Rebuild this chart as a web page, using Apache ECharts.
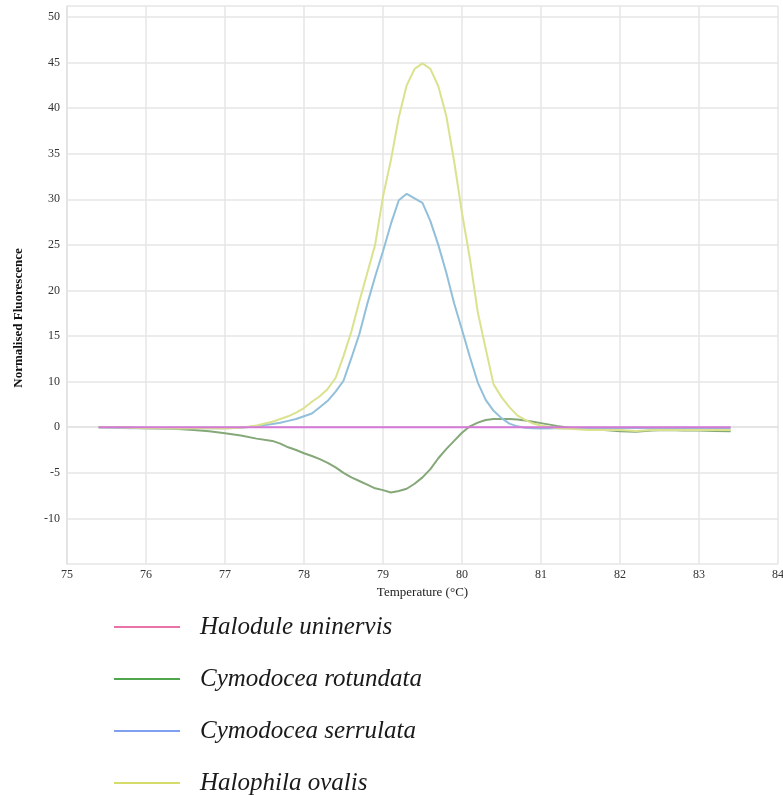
<!DOCTYPE html>
<html>
<head>
<meta charset="utf-8">
<script src="https://cdn.jsdelivr.net/npm/echarts@6/dist/echarts.min.js"></script>
<style>
html,body{margin:0;padding:0;background:#fff;}
#chart{width:783px;height:795px;}
</style>
</head>
<body>
<div id="chart"></div>
<script>
// Temperatures (°C)
const temps = [75.4,75.6,75.8,76.0,76.2,76.4,76.6,76.8,77.0,77.2,77.4,
  77.6,77.7,77.8,77.9,78.0,78.1,78.2,78.3,78.4,78.5,78.6,78.7,78.8,78.9,
  79.0,79.1,79.2,79.3,79.4,79.5,79.6,79.7,79.8,79.9,80.0,80.1,80.2,80.3,
  80.4,80.5,80.6,80.7,80.8,80.9,81.0,
  81.2,81.4,81.6,81.8,82.0,82.2,82.4,82.6,82.8,83.0,83.2,83.4];

const seriesNames = ['Halodule uninervis','Cymodocea rotundata','Cymodocea serrulata','Halophila ovalis'];

// Values in the plot's axis units (the flat line sits on the gridline labelled "0")
const halodule = temps.map(() => 0);

const rotundata = [0,0,-0.05,-0.1,-0.15,-0.2,-0.3,-0.45,-0.65,-0.9,-1.25,
  -1.5,-1.8,-2.2,-2.5,-2.85,-3.15,-3.5,-3.9,-4.4,-5.0,-5.5,-5.9,-6.3,-6.7,
  -6.9,-7.15,-7.0,-6.75,-6.2,-5.5,-4.6,-3.4,-2.4,-1.5,-0.6,0.1,0.5,0.8,
  0.9,0.9,0.9,0.85,0.75,0.6,0.45,
  0.15,-0.1,-0.2,-0.3,-0.45,-0.5,-0.35,-0.3,-0.35,-0.35,-0.4,-0.45];

const serrulata = [0,-0.05,-0.1,-0.1,-0.15,-0.1,-0.1,-0.1,-0.1,-0.05,0.1,
  0.35,0.5,0.7,0.9,1.2,1.5,2.2,2.9,3.9,5.1,7.6,10.2,13.5,16.5,
  19.3,22.3,24.9,25.6,25.1,24.6,22.6,20.0,17.0,13.6,10.7,7.7,4.9,3.0,
  1.8,1.0,0.4,0.1,-0.05,-0.1,-0.15,
  -0.1,-0.1,-0.05,-0.1,-0.1,-0.05,-0.1,-0.1,-0.05,-0.1,-0.1,-0.1];

const ovalis = [0,0,-0.05,-0.1,-0.1,-0.15,-0.1,-0.1,-0.15,-0.05,0.2,
  0.6,0.9,1.2,1.6,2.1,2.8,3.4,4.2,5.4,7.8,10.5,13.8,16.9,20.0,
  25.3,29.3,34.0,37.5,39.3,39.9,39.3,37.4,34.2,29.2,23.5,18.5,12.6,8.6,
  4.7,3.3,2.2,1.3,0.8,0.4,0.2,
  -0.1,-0.2,-0.3,-0.3,-0.3,-0.4,-0.3,-0.3,-0.3,-0.3,-0.3,-0.3];

// Tick labels
const xTicks = [75,76,77,78,79,80,81,82,83,84];
const yTickValues = [-15,-10,-5,0,5,10,15,20,25,30,35,40,45];
const yTickLabels = ['','-10','-5','0','10','15','20','25','30','35','40','45','50'];

const lineColors = ['#d47ad6','#84a878','#92c0da','#dbe28e'];
const legendColors = ['#e873a8','#4fa64f','#7f9ff0','#d6dc6a'];

const chart = echarts.init(document.getElementById('chart'));
const valuesList = [halodule, rotundata, serrulata, ovalis];
const zList = [5,2,3,4];

const series = seriesNames.map((name, i) => ({
  name: name,
  type: 'line',
  data: temps.map((t, k) => [t, valuesList[i][k]]),
  symbol: 'none',
  smooth: false,
  z: zList[i],
  lineStyle: {color: lineColors[i], width: 2},
  itemStyle: {color: lineColors[i]}
}));

chart.setOption({
  backgroundColor: '#ffffff',
  animation: false,
  grid: {left: 67, right: 5, top: 6, bottom: 231, containLabel: false, outerBoundsMode: 'none'},
  xAxis: {
    type: 'value',
    min: xTicks[0],
    max: xTicks[xTicks.length - 1],
    interval: 1,
    name: 'Temperature (°C)',
    nameLocation: 'middle',
    nameGap: 18,
    nameTextStyle: {fontFamily: 'Liberation Serif', fontSize: 13, color: '#222'},
    axisLine: {show: true, lineStyle: {color: '#e2e2e2', width: 1.5}},
    axisTick: {show: false},
    axisLabel: {fontFamily: 'Liberation Serif', fontSize: 12, color: '#333', margin: 5,
      formatter: v => xTicks.indexOf(v) >= 0 ? String(v) : ''},
    splitLine: {show: true, lineStyle: {color: '#e6e6e6', width: 1.5}}
  },
  yAxis: {
    type: 'value',
    min: -15,
    max: 46.2,
    interval: 5,
    name: 'Normalised Fluorescence',
    nameLocation: 'middle',
    nameGap: 42,
    nameTextStyle: {fontFamily: 'Liberation Serif', fontSize: 13, fontWeight: 'bold', color: '#111', padding: [0, 66, 0, 0]},
    axisLine: {show: true, lineStyle: {color: '#e2e2e2', width: 1.5}},
    axisTick: {show: false},
    axisLabel: {fontFamily: 'Liberation Serif', fontSize: 12, color: '#333', margin: 7,
      formatter: v => {
        const idx = yTickValues.indexOf(Math.round(v * 100) / 100);
        return idx >= 0 ? yTickLabels[idx] : '';
      }},
    splitLine: {show: true, lineStyle: {color: '#e6e6e6', width: 1.5}}
  },
  legend: {
    orient: 'vertical',
    left: 114,
    top: 614,
    height: 200,
    padding: 0,
    itemWidth: 66,
    itemHeight: 14,
    itemGap: 26,
    icon: 'path://M0,6 L66,6 L66,8 L0,8 Z',
    data: seriesNames.map((n, i) => ({name: n, itemStyle: {color: legendColors[i]}})),
    textStyle: {fontFamily: 'Liberation Serif', fontStyle: 'italic', fontSize: 25, color: '#1a1a1a',
      lineHeight: 26, padding: [0, 0, 0, 15]}
  },
  series: series
});
</script>
</body>
</html>
